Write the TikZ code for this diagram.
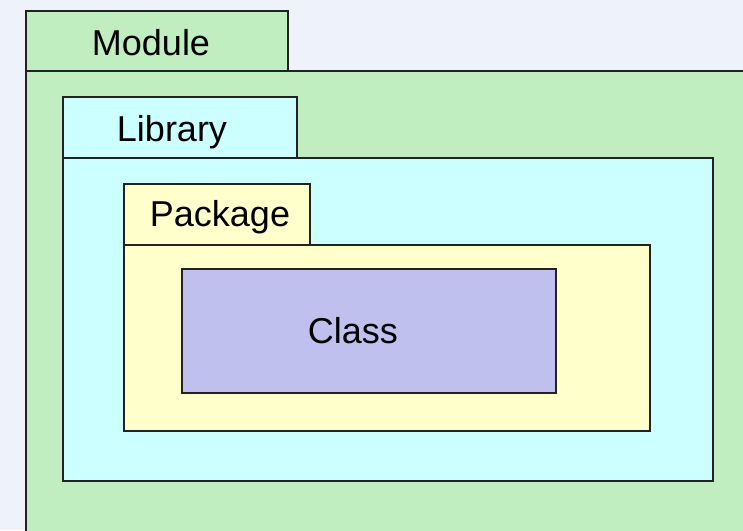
\documentclass[tikz,border=0pt]{standalone}
\usepackage{fontspec}
\setmainfont{Liberation Sans}
\usetikzlibrary{positioning}

\definecolor{bgblue}{HTML}{EEF3FB}
\definecolor{modgreen}{HTML}{C0EEC0}
\definecolor{libcyan}{HTML}{CCFFFF}
\definecolor{pkgyellow}{HTML}{FFFFCC}
\definecolor{clspurple}{HTML}{C0C0EE}
\definecolor{edge}{HTML}{222222}

\tikzset{
  box/.style={draw=edge, line width=2pt, anchor=north west, inner sep=0pt},
  tab/.style={box, minimum height=61pt},
  boxname/.style={font=\fontsize{36}{42}\selectfont, inner sep=0pt},
}

\begin{document}
\begin{tikzpicture}[x=1pt,y=-1pt]
    \fill[bgblue] (0,0) rectangle (743,530);
    \clip (0,0) rectangle (743,530);
    % module
    \node[tab,fill=modgreen,minimum width=262pt,minimum height=60pt] (modtab) at (25,10) {};
    \node[box,fill=modgreen,minimum width=740pt,minimum height=480pt] (mod) at (25,70) {};
    \node[boxname] (modname) at ([xshift=-6pt,yshift=-2pt]modtab.center) {Module};
    % library
    \node[tab,fill=libcyan,minimum width=234pt] (libtab) at (62,96) {};
    \node[box,fill=libcyan,minimum width=650pt,minimum height=323pt] (lib) at (62,157) {};
    \node[boxname] (libname) at ([xshift=-8pt,yshift=-5pt]libtab.center) {Library};
    % package
    \node[tab,fill=pkgyellow,minimum width=186pt] (pkgtab) at (123,183) {};
    \node[box,fill=pkgyellow,minimum width=526pt,minimum height=186pt] (pkg) at (123,244) {};
    \node[boxname] (pkgname) at ([xshift=3pt,yshift=-3pt]pkgtab.center) {Package};
    % class
    \node[box,fill=clspurple,minimum width=374pt,minimum height=124pt] (cls) at (181,268) {};
    \node[boxname] (clsname) at ([xshift=-16pt]cls.center) {Class};
\end{tikzpicture}
\end{document}
